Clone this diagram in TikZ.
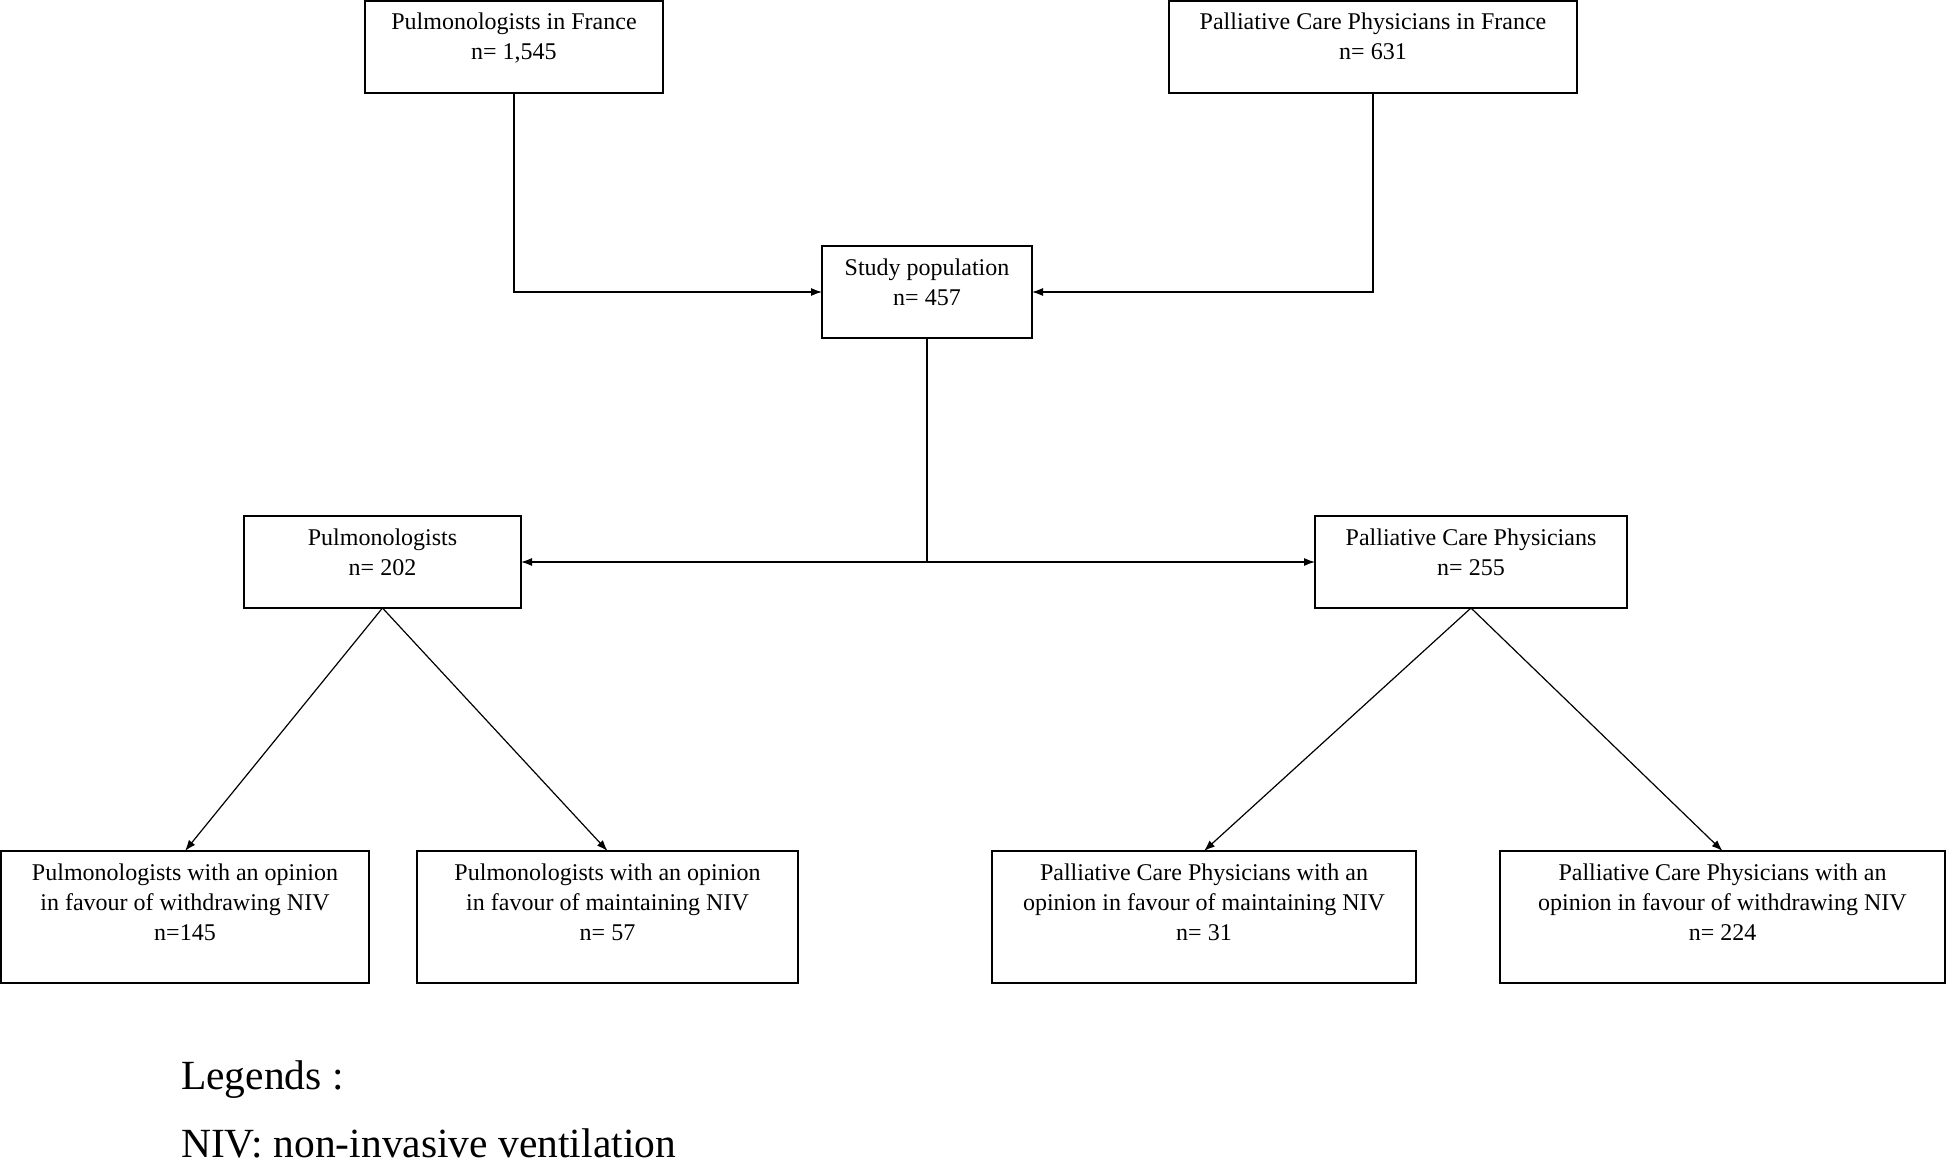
\documentclass[tikz,border=0pt]{standalone}
\usepackage{fontspec}
\setmainfont{Liberation Serif}
\usetikzlibrary{arrows.meta}
\newcommand\bxtxt[3]{\parbox[c][#2pt][t]{#1pt}{\centering\fontsize{24}{30}\selectfont\rule{0pt}{29pt}#3}}
\begin{document}
\begin{tikzpicture}[x=1pt,y=-1pt,
  box/.style={draw, line width=1.4pt, inner sep=0pt, outer sep=0pt, anchor=north west},
  conn/.style={line width=1.2pt},
  arr/.style={conn, -{Latex[length=11pt,width=8pt]}},
  legend/.style={anchor=base west, inner sep=0pt, font=\fontsize{41.5}{48}\selectfont}]
\useasboundingbox[fill=white] (0,0) rectangle (1946,1166);

\node[box] (pf) at (365,1) {\bxtxt{298}{92}{Pulmonologists in France\\ n= 1,545}};
\node[box] (pcf) at (1169,1) {\bxtxt{408}{92}{Palliative Care Physicians in France\\ n= 631}};
\node[box] (study) at (822,246) {\bxtxt{210}{92}{Study population\\ n= 457}};
\node[box] (pulm) at (244,516) {\bxtxt{277}{92}{Pulmonologists\\ n= 202}};
\node[box] (pcp) at (1315,516) {\bxtxt{312}{92}{Palliative Care Physicians\\ n= 255}};
\node[box] (a) at (1,851) {\bxtxt{368}{132}{Pulmonologists with an opinion\\ in favour of withdrawing NIV\\ n=145}};
\node[box] (b) at (417,851) {\bxtxt{381}{132}{Pulmonologists with an opinion\\ in favour of maintaining NIV\\ n= 57}};
\node[box] (c) at (992,851) {\bxtxt{424}{132}{Palliative Care Physicians with an\\ opinion in favour of maintaining NIV\\ n= 31}};
\node[box] (d) at (1500,851) {\bxtxt{445}{132}{Palliative Care Physicians with an\\ opinion in favour of withdrawing NIV\\ n= 224}};

\draw[arr] (pf.south) |- (study.west);
\draw[arr] (pcf.south) |- (study.east);
\coordinate (split) at (study.south |- pulm.east);
\draw[conn] (study.south) -- (split);
\draw[arr] (split) -- (pulm.east);
\draw[arr] (split) -- (pcp.west);
\draw[arr] (pulm.south) -- (a.north);
\draw[arr] (pulm.south) -- (b.north);
\draw[arr] (pcp.south) -- (c.north);
\draw[arr] (pcp.south) -- (d.north);

\node[legend] (leg1) at (181,1089) {Legends :};
\node[legend] (leg2) at (181,1157) {NIV: non-invasive ventilation};
\end{tikzpicture}
\end{document}
